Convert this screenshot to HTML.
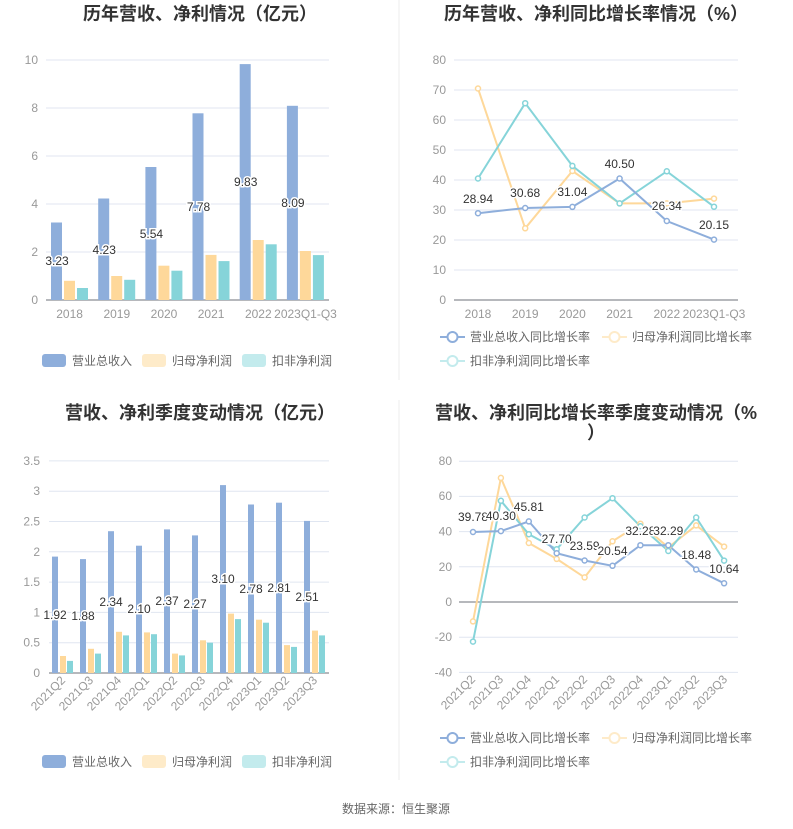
<!DOCTYPE html>
<html><head><meta charset="utf-8"><style>
body{margin:0;background:#fff;}
svg{display:block;font-family:"Liberation Sans","Noto Sans CJK SC",sans-serif;}
.t{font-size:18px;font-weight:bold;fill:#333;text-anchor:middle}
.ax{font-size:12px;fill:#999}
.lb{font-size:12px;fill:#333;text-anchor:middle;stroke:#fff;stroke-width:3px;paint-order:stroke}
.lg{font-size:12px;fill:#666}
.g{stroke:#e0e6f1;stroke-width:1}
</style></head><body>
<svg width="793" height="829" viewBox="0 0 793 829">
<line x1="399" y1="0" x2="399" y2="380" stroke="#eee"/>
<line x1="399" y1="400" x2="399" y2="780" stroke="#eee"/>
<text class="t" x="200" y="20">历年营收、净利情况（亿元）</text>
<text class="t" x="596" y="20">历年营收、净利同比增长率情况（%）</text>
<text class="t" x="200" y="419">营收、净利季度变动情况（亿元）</text>
<text class="t" x="596" y="419">营收、净利同比增长率季度变动情况（%</text>
<text class="t" x="596" y="439">）</text>

<!-- Chart 1 -->
<g class="g"><line x1="46" y1="252" x2="329" y2="252"/><line x1="46" y1="204" x2="329" y2="204"/><line x1="46" y1="156" x2="329" y2="156"/><line x1="46" y1="108" x2="329" y2="108"/><line x1="46" y1="60" x2="329" y2="60"/></g>
<line x1="46" y1="300" x2="329" y2="300" stroke="#6e7079"/>
<g class="ax" text-anchor="end"><text x="38" y="304">0</text><text x="38" y="256">2</text><text x="38" y="208">4</text><text x="38" y="160">6</text><text x="38" y="112">8</text><text x="38" y="64">10</text></g>
<g class="ax" text-anchor="middle"><text x="69.6" y="318">2018</text><text x="116.8" y="318">2019</text><text x="164" y="318">2020</text><text x="211.1" y="318">2021</text><text x="258.3" y="318">2022</text><text x="305.5" y="318">2023Q1-Q3</text></g>
<g fill="#8eaedb">
<rect x="51" y="222.5" width="11" height="77.5"/><rect x="98.2" y="198.5" width="11" height="101.5"/><rect x="145.4" y="167" width="11" height="133"/><rect x="192.5" y="113.3" width="11" height="186.7"/><rect x="239.7" y="64.1" width="11" height="235.9"/><rect x="286.9" y="105.8" width="11" height="194.2"/></g>
<g fill="#fed89a">
<rect x="64" y="280.8" width="11" height="19.2"/><rect x="111.2" y="276" width="11" height="24"/><rect x="158.4" y="265.7" width="11" height="34.3"/><rect x="205.5" y="254.9" width="11" height="45.1"/><rect x="252.7" y="240" width="11" height="60"/><rect x="299.9" y="251" width="11" height="49"/></g>
<g fill="#86d4d9">
<rect x="77" y="288" width="11" height="12"/><rect x="124.2" y="279.8" width="11" height="20.2"/><rect x="171.4" y="270.7" width="11" height="29.3"/><rect x="218.5" y="261.1" width="11" height="38.9"/><rect x="265.7" y="244.3" width="11" height="55.7"/><rect x="312.9" y="255.1" width="11" height="44.9"/></g>
<g class="lb"><text x="57" y="265">3.23</text><text x="104.2" y="254">4.23</text><text x="151.4" y="238">5.54</text><text x="198.5" y="211">7.78</text><text x="245.7" y="186">9.83</text><text x="292.9" y="207">8.09</text></g>
<rect x="42" y="354" width="24" height="13" rx="3" fill="#8eaedb"/><text class="lg" x="72" y="365">营业总收入</text>
<rect x="142" y="354" width="24" height="13" rx="3" fill="#feebc9"/><text class="lg" x="172" y="365">归母净利润</text>
<rect x="242" y="354" width="24" height="13" rx="3" fill="#c3ebed"/><text class="lg" x="272" y="365">扣非净利润</text>

<!-- Chart 2 -->
<g class="g"><line x1="454" y1="270" x2="738" y2="270"/><line x1="454" y1="240" x2="738" y2="240"/><line x1="454" y1="210" x2="738" y2="210"/><line x1="454" y1="180" x2="738" y2="180"/><line x1="454" y1="150" x2="738" y2="150"/><line x1="454" y1="120" x2="738" y2="120"/><line x1="454" y1="90" x2="738" y2="90"/><line x1="454" y1="60" x2="738" y2="60"/></g>
<line x1="454" y1="300" x2="738" y2="300" stroke="#6e7079"/>
<g class="ax" text-anchor="end"><text x="446" y="304">0</text><text x="446" y="274">10</text><text x="446" y="244">20</text><text x="446" y="214">30</text><text x="446" y="184">40</text><text x="446" y="154">50</text><text x="446" y="124">60</text><text x="446" y="94">70</text><text x="446" y="64">80</text></g>
<g class="ax" text-anchor="middle"><text x="478" y="318">2018</text><text x="525.2" y="318">2019</text><text x="572.4" y="318">2020</text><text x="619.6" y="318">2021</text><text x="666.8" y="318">2022</text><text x="714" y="318">2023Q1-Q3</text></g>
<g fill="#fff" stroke-width="2">
<polyline fill="none" stroke="#fed89a" points="478,88.5 525.2,228.3 572.4,171 619.6,203.4 666.8,203.4 714,198.6"/>
<polyline fill="none" stroke="#86d4d9" points="478,178.5 525.2,103.2 572.4,165.9 619.6,203.4 666.8,171.3 714,206.7"/>
<polyline fill="none" stroke="#8eaedb" points="478,213.2 525.2,208 572.4,206.9 619.6,178.5 666.8,221 714,239.6"/>
<g stroke="#fed89a" stroke-width="1.5"><circle cx="478" cy="88.5" r="2.5"/><circle cx="525.2" cy="228.3" r="2.5"/><circle cx="572.4" cy="171" r="2.5"/><circle cx="619.6" cy="203.4" r="2.5"/><circle cx="666.8" cy="203.4" r="2.5"/><circle cx="714" cy="198.6" r="2.5"/></g>
<g stroke="#86d4d9" stroke-width="1.5"><circle cx="478" cy="178.5" r="2.5"/><circle cx="525.2" cy="103.2" r="2.5"/><circle cx="572.4" cy="165.9" r="2.5"/><circle cx="619.6" cy="203.4" r="2.5"/><circle cx="666.8" cy="171.3" r="2.5"/><circle cx="714" cy="206.7" r="2.5"/></g>
<g stroke="#8eaedb" stroke-width="1.5"><circle cx="478" cy="213.2" r="2.5"/><circle cx="525.2" cy="208" r="2.5"/><circle cx="572.4" cy="206.9" r="2.5"/><circle cx="619.6" cy="178.5" r="2.5"/><circle cx="666.8" cy="221" r="2.5"/><circle cx="714" cy="239.6" r="2.5"/></g>
</g>
<g class="lb"><text x="478" y="203">28.94</text><text x="525.2" y="197">30.68</text><text x="572.4" y="196">31.04</text><text x="619.6" y="168">40.50</text><text x="666.8" y="210">26.34</text><text x="714" y="229">20.15</text></g>
<g stroke-width="2" fill="#fff">
<line x1="440" y1="337" x2="465" y2="337" stroke="#8eaedb"/><circle cx="452.5" cy="337" r="5" stroke="#8eaedb"/>
<line x1="602" y1="337" x2="627" y2="337" stroke="#feebc9"/><circle cx="614.5" cy="337" r="5" stroke="#feebc9"/>
<line x1="440" y1="361" x2="465" y2="361" stroke="#c3ebed"/><circle cx="452.5" cy="361" r="5" stroke="#c3ebed"/></g>
<text class="lg" x="470" y="341" fill="#333">营业总收入同比增长率</text>
<text class="lg" x="632" y="341" fill="#999">归母净利润同比增长率</text>
<text class="lg" x="470" y="365" fill="#999">扣非净利润同比增长率</text>

<!-- Chart 3 -->
<g class="g"><line x1="49" y1="642.7" x2="329" y2="642.7"/><line x1="49" y1="612.4" x2="329" y2="612.4"/><line x1="49" y1="582.1" x2="329" y2="582.1"/><line x1="49" y1="551.8" x2="329" y2="551.8"/><line x1="49" y1="521.5" x2="329" y2="521.5"/><line x1="49" y1="491.2" x2="329" y2="491.2"/><line x1="49" y1="460.9" x2="329" y2="460.9"/></g>
<line x1="49" y1="673" x2="329" y2="673" stroke="#6e7079"/>
<g class="ax" text-anchor="end"><text x="40" y="677">0</text><text x="40" y="646.7">0.5</text><text x="40" y="616.4">1</text><text x="40" y="586.1">1.5</text><text x="40" y="555.8">2</text><text x="40" y="525.5">2.5</text><text x="40" y="495.2">3</text><text x="40" y="464.9">3.5</text></g>
<g class="ax" text-anchor="end">
<text transform="translate(66,681) rotate(-45)">2021Q2</text><text transform="translate(94,681) rotate(-45)">2021Q3</text><text transform="translate(122,681) rotate(-45)">2021Q4</text><text transform="translate(150,681) rotate(-45)">2022Q1</text><text transform="translate(178,681) rotate(-45)">2022Q2</text><text transform="translate(206,681) rotate(-45)">2022Q3</text><text transform="translate(234,681) rotate(-45)">2022Q4</text><text transform="translate(262,681) rotate(-45)">2023Q1</text><text transform="translate(290,681) rotate(-45)">2023Q2</text><text transform="translate(318,681) rotate(-45)">2023Q3</text></g>
<g fill="#8eaedb">
<rect x="52" y="556.6" width="6" height="116.4"/><rect x="80" y="559.1" width="6" height="113.9"/><rect x="108" y="531.2" width="6" height="141.8"/><rect x="136" y="545.7" width="6" height="127.3"/><rect x="164" y="529.4" width="6" height="143.6"/><rect x="192" y="535.4" width="6" height="137.6"/><rect x="220" y="485.1" width="6" height="187.9"/><rect x="248" y="504.5" width="6" height="168.5"/><rect x="276" y="502.7" width="6" height="170.3"/><rect x="304" y="520.9" width="6" height="152.1"/></g>
<g fill="#fed89a">
<rect x="60" y="656" width="6" height="17"/><rect x="88" y="648.8" width="6" height="24.2"/><rect x="116" y="631.8" width="6" height="41.2"/><rect x="144" y="632.4" width="6" height="40.6"/><rect x="172" y="653.6" width="6" height="19.4"/><rect x="200" y="640.3" width="6" height="32.7"/><rect x="228" y="613.6" width="6" height="59.4"/><rect x="256" y="619.7" width="6" height="53.3"/><rect x="284" y="645.1" width="6" height="27.9"/><rect x="312" y="630.6" width="6" height="42.4"/></g>
<g fill="#86d4d9">
<rect x="67" y="660.9" width="6" height="12.1"/><rect x="95" y="653.6" width="6" height="19.4"/><rect x="123" y="635.4" width="6" height="37.6"/><rect x="151" y="634.2" width="6" height="38.8"/><rect x="179" y="655.4" width="6" height="17.6"/><rect x="207" y="642.7" width="6" height="30.3"/><rect x="235" y="619.1" width="6" height="53.9"/><rect x="263" y="622.7" width="6" height="50.3"/><rect x="291" y="646.9" width="6" height="26.1"/><rect x="319" y="635.4" width="6" height="37.6"/></g>
<g class="lb"><text x="55" y="619">1.92</text><text x="83" y="620">1.88</text><text x="111" y="606">2.34</text><text x="139" y="613">2.10</text><text x="167" y="605">2.37</text><text x="195" y="608">2.27</text><text x="223" y="583">3.10</text><text x="251" y="593">2.78</text><text x="279" y="592">2.81</text><text x="307" y="601">2.51</text></g>
<rect x="42" y="755" width="24" height="13" rx="3" fill="#8eaedb"/><text class="lg" x="72" y="766">营业总收入</text>
<rect x="142" y="755" width="24" height="13" rx="3" fill="#feebc9"/><text class="lg" x="172" y="766">归母净利润</text>
<rect x="242" y="755" width="24" height="13" rx="3" fill="#c3ebed"/><text class="lg" x="272" y="766">扣非净利润</text>

<!-- Chart 4 -->
<g class="g"><line x1="459" y1="461.2" x2="738" y2="461.2"/><line x1="459" y1="496.4" x2="738" y2="496.4"/><line x1="459" y1="531.6" x2="738" y2="531.6"/><line x1="459" y1="566.8" x2="738" y2="566.8"/><line x1="459" y1="637.2" x2="738" y2="637.2"/><line x1="459" y1="672.4" x2="738" y2="672.4"/></g>
<line x1="459" y1="602" x2="738" y2="602" stroke="#6e7079"/>
<g class="ax" text-anchor="end"><text x="452" y="465">80</text><text x="452" y="500">60</text><text x="452" y="535.6">40</text><text x="452" y="570.8">20</text><text x="452" y="606">0</text><text x="452" y="641">-20</text><text x="452" y="676.4">-40</text></g>
<g class="ax" text-anchor="end">
<text transform="translate(476,680) rotate(-45)">2021Q2</text><text transform="translate(504,680) rotate(-45)">2021Q3</text><text transform="translate(532,680) rotate(-45)">2021Q4</text><text transform="translate(560,680) rotate(-45)">2022Q1</text><text transform="translate(588,680) rotate(-45)">2022Q2</text><text transform="translate(616,680) rotate(-45)">2022Q3</text><text transform="translate(644,680) rotate(-45)">2022Q4</text><text transform="translate(672,680) rotate(-45)">2023Q1</text><text transform="translate(700,680) rotate(-45)">2023Q2</text><text transform="translate(728,680) rotate(-45)">2023Q3</text></g>
<g fill="#fff" stroke-width="2">
<polyline fill="none" stroke="#fed89a" points="473,621.4 500.9,477.9 528.8,543 556.7,558.9 584.6,577.4 612.5,541.3 640.4,523.7 668.3,547.4 696.2,525.4 724.1,546.6"/>
<polyline fill="none" stroke="#86d4d9" points="473,641.6 500.9,500.8 528.8,534.2 556.7,549.2 584.6,517.5 612.5,498.2 640.4,526.3 668.3,551 696.2,517.5 724.1,560.6"/>
<polyline fill="none" stroke="#8eaedb" points="473,532 500.9,531.1 528.8,521.4 556.7,553.2 584.6,560.5 612.5,565.8 640.4,545.2 668.3,545.2 696.2,569.5 724.1,583.3"/>
<g stroke="#fed89a" stroke-width="1.5"><circle cx="473" cy="621.4" r="2.5"/><circle cx="500.9" cy="477.9" r="2.5"/><circle cx="528.8" cy="543" r="2.5"/><circle cx="556.7" cy="558.9" r="2.5"/><circle cx="584.6" cy="577.4" r="2.5"/><circle cx="612.5" cy="541.3" r="2.5"/><circle cx="640.4" cy="523.7" r="2.5"/><circle cx="668.3" cy="547.4" r="2.5"/><circle cx="696.2" cy="525.4" r="2.5"/><circle cx="724.1" cy="546.6" r="2.5"/></g>
<g stroke="#86d4d9" stroke-width="1.5"><circle cx="473" cy="641.6" r="2.5"/><circle cx="500.9" cy="500.8" r="2.5"/><circle cx="528.8" cy="534.2" r="2.5"/><circle cx="556.7" cy="549.2" r="2.5"/><circle cx="584.6" cy="517.5" r="2.5"/><circle cx="612.5" cy="498.2" r="2.5"/><circle cx="640.4" cy="526.3" r="2.5"/><circle cx="668.3" cy="551" r="2.5"/><circle cx="696.2" cy="517.5" r="2.5"/><circle cx="724.1" cy="560.6" r="2.5"/></g>
<g stroke="#8eaedb" stroke-width="1.5"><circle cx="473" cy="532" r="2.5"/><circle cx="500.9" cy="531.1" r="2.5"/><circle cx="528.8" cy="521.4" r="2.5"/><circle cx="556.7" cy="553.2" r="2.5"/><circle cx="584.6" cy="560.5" r="2.5"/><circle cx="612.5" cy="565.8" r="2.5"/><circle cx="640.4" cy="545.2" r="2.5"/><circle cx="668.3" cy="545.2" r="2.5"/><circle cx="696.2" cy="569.5" r="2.5"/><circle cx="724.1" cy="583.3" r="2.5"/></g>
</g>
<g class="lb"><text x="473" y="521">39.78</text><text x="500.9" y="520">40.30</text><text x="528.8" y="511">45.81</text><text x="556.7" y="543">27.70</text><text x="584.6" y="550">23.59</text><text x="612.5" y="555">20.54</text><text x="640.4" y="535">32.28</text><text x="668.3" y="535">32.29</text><text x="696.2" y="559">18.48</text><text x="724.1" y="573">10.64</text></g>
<g stroke-width="2" fill="#fff">
<line x1="440" y1="738" x2="465" y2="738" stroke="#8eaedb"/><circle cx="452.5" cy="738" r="5" stroke="#8eaedb"/>
<line x1="602" y1="738" x2="627" y2="738" stroke="#feebc9"/><circle cx="614.5" cy="738" r="5" stroke="#feebc9"/>
<line x1="440" y1="762" x2="465" y2="762" stroke="#c3ebed"/><circle cx="452.5" cy="762" r="5" stroke="#c3ebed"/></g>
<text class="lg" x="470" y="742" fill="#333">营业总收入同比增长率</text>
<text class="lg" x="632" y="742" fill="#999">归母净利润同比增长率</text>
<text class="lg" x="470" y="766" fill="#999">扣非净利润同比增长率</text>

<text x="396" y="813" text-anchor="middle" font-size="12" fill="#666">数据来源：恒生聚源</text>
</svg>
</body></html>
